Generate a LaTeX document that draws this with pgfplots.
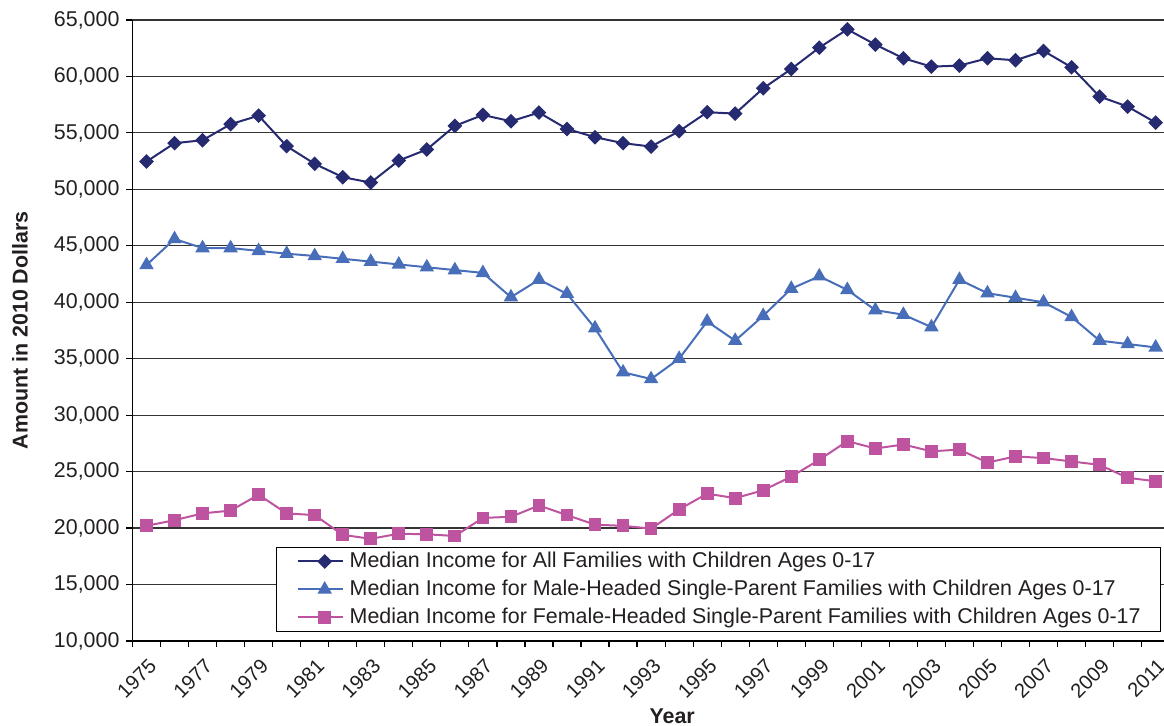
\documentclass[border=0pt]{standalone}
\usepackage{fontspec}
\setmainfont{Liberation Sans}
\usepackage{pgfplots}
\usepackage{pgfplotstable}
\pgfplotsset{compat=1.18}
\definecolor{navy}{RGB}{38,42,112}
\definecolor{mblue}{RGB}{72,110,185}
\definecolor{mpink}{RGB}{190,84,160}
\definecolor{txt}{RGB}{35,31,32}

\pgfplotstableread{
idx all male female
0 52460 43300 20200
1 54090 45600 20700
2 54350 44800 21300
3 55770 44800 21550
4 56530 44550 22950
5 53820 44300 21300
6 52260 44100 21150
7 51080 43850 19400
8 50600 43600 19050
9 52550 43350 19500
10 53530 43100 19450
11 55620 42850 19300
12 56590 42600 20900
13 56030 40450 21000
14 56800 42000 22000
15 55350 40750 21150
16 54620 37700 20300
17 54090 33800 20200
18 53790 33200 19950
19 55150 35000 21650
20 56830 38300 23050
21 56710 36600 22650
22 58950 38800 23350
23 60660 41200 24550
24 62550 42300 26050
25 64170 41100 27700
26 62820 39300 27050
27 61610 38900 27400
28 60870 37800 26800
29 60960 42000 26950
30 61610 40800 25800
31 61430 40400 26350
32 62260 40000 26200
33 60810 38700 25900
34 58220 36600 25600
35 57330 36300 24450
36 55910 36000 24150
}\datatable

\begin{document}
\begin{tikzpicture}
\useasboundingbox (-66.25pt,-42.5pt) rectangle (515.75pt,320.5pt);
\begin{axis}[
  at={(0,0)}, anchor=south west,
  scale only axis, width=518.6pt, height=310.5pt,
  xmin=-0.5, xmax=36.5, ymin=10000, ymax=65000,
  axis x line*=bottom, axis y line*=left,
  axis line style={black, line width=0.7pt},
  ytick={10000,15000,...,65000},
  ymajorgrids, major grid style={black!80, line width=0.6pt},
  xtick={-0.5,0.5,...,36.5}, xticklabels={},
  extra x ticks={0,2,...,36},
  extra x tick labels={1975,1977,1979,1981,1983,1985,1987,1989,1991,1993,1995,1997,1999,2001,2003,2005,2007,2009,2011},
  extra x tick style={major tick length=0pt, grid=none},
  tick align=outside, major tick length=3pt,
  tick style={black, line width=0.6pt},
  scaled y ticks=false,
  /pgf/number format/.cd, 1000 sep={,}, assume math mode=true,
  /pgfplots/.cd,
  yticklabel style={font=\fontsize{10.7}{12.8}\selectfont, text=txt},
  xticklabel style={font=\fontsize{10.1}{12}\selectfont, text=txt, xshift=0.5pt, yshift=-3.5pt, rotate=45, anchor=north east},
  every axis y label/.style={at={(axis description cs:-0.1085,0.5)}, rotate=90, anchor=center, font=\fontsize{10.7}{12.8}\selectfont\bfseries, text=txt},
  every axis x label/.style={at={(axis description cs:0.5203,-0.1208)}, anchor=center, font=\fontsize{10.7}{12.8}\selectfont\bfseries, text=txt},
  ylabel={Amount in 2010 Dollars},
  xlabel={Year},
  legend cell align=left,
  legend style={at={(axis description cs:0.9918,0.0145)}, anchor=south east,
    draw=black, line width=0.5pt, fill=white,
    inner xsep=10pt, inner ysep=0pt, row sep=0pt, column sep=3pt,
    font=\fontsize{10.7}{12.8}\selectfont, text=txt,
    nodes={inner xsep=0pt, inner ysep=0pt, minimum height=14pt}},
  legend image code/.code={\path (-4.5pt,0pt) -- (0pt,0pt);
    \draw[mark repeat=2, mark phase=2] plot coordinates {(0pt,0pt)(9pt,0pt)(18pt,0pt)};},
]
\addplot[navy, line width=1pt, mark=square*, mark size=2.1pt, mark options={rotate=45, solid, fill=navy}] table[x=idx, y=all] {\datatable};
\addlegendentry{Median Income for All Families with Children Ages 0-17}
\addplot[mblue, line width=1pt, mark=triangle*, mark size=3.2pt, mark options={solid, fill=mblue}] table[x=idx, y=male] {\datatable};
\addlegendentry{Median Income for Male-Headed Single-Parent Families with Children Ages 0-17}
\addplot[mpink, line width=1pt, mark=square*, mark size=2.7pt, mark options={solid, fill=mpink}] table[x=idx, y=female] {\datatable};
\addlegendentry{Median Income for Female-Headed Single-Parent Families with Children Ages 0-17}
\end{axis}
\end{tikzpicture}
\end{document}
